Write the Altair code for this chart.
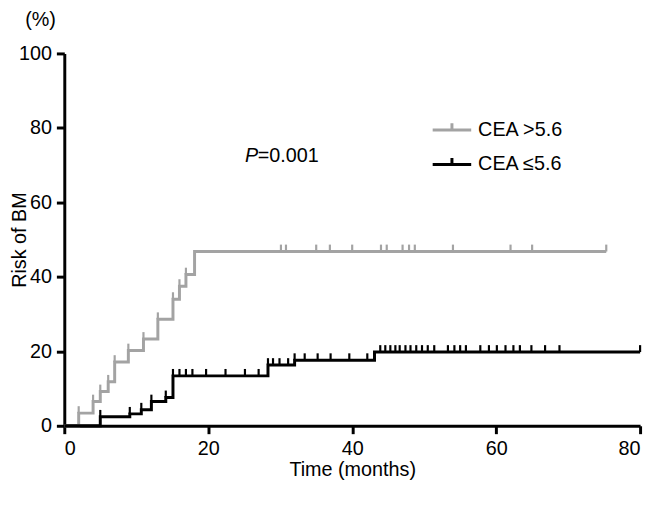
import altair as alt
import pandas as pd

# ---- data ----
series_names = ["CEA >5.6", "CEA ≤5.6"]
series_colors = ["#a3a3a3", "#000000"]

# CEA >5.6 (grey) step curve
hi_times = [0, 2.0, 4.0, 5.0, 6.1, 7.0, 8.9, 11.0, 13.0, 15.1, 16.0, 16.9, 18.1, 75.3]
hi_levels = [0, 3.4, 6.5, 9.2, 11.8, 17.1, 20.2, 23.3, 28.6, 34.0, 37.5, 40.6, 46.8, 46.8]
hi_censor = [2.0, 4.0, 5.0, 6.1, 7.0, 8.9, 11.0, 13.0, 15.1, 16.0, 16.9,
             30.1, 30.8, 35.0, 36.9, 40.0, 44.0, 44.8, 47.0, 47.9, 48.7,
             54.0, 62.0, 65.0, 75.3]

# CEA <=5.6 (black) step curve
lo_times = [0, 5.0, 9.1, 10.7, 12.1, 14.1, 15.1, 28.3, 32.0, 43.1, 80.0]
lo_levels = [0, 2.4, 3.2, 4.3, 6.5, 7.6, 13.4, 16.3, 17.6, 19.8, 19.8]
lo_censor = [5.0, 9.1, 10.7, 12.1, 14.1, 15.1, 16.0, 16.9, 17.8,
             19.7, 22.4, 25.1, 27.0, 28.3, 29.0, 29.9, 31.1, 32.0, 33.4,
             35.2, 37.0, 39.6, 42.1,
             43.9, 44.6, 45.3, 46.0, 46.6, 47.4, 48.1, 48.9, 49.7, 50.5,
             51.4, 53.3, 54.2, 55.0, 55.8, 57.8, 59.0, 60.1, 61.3, 62.4,
             63.3, 64.9, 66.8, 68.8, 80.0]

x_ticks = [0, 20, 40, 60, 80]
y_ticks = [0, 20, 40, 60, 80, 100]

p_text_x, p_text_y = 25.1, 72.4


def level_at(times, levels, t):
    v = levels[0]
    for tt, lv in zip(times, levels):
        if tt <= t + 1e-9:
            v = lv
    return v


rows = []
for t, v in zip(hi_times, hi_levels):
    rows.append({"group": series_names[0], "t": t, "v": v})
for t, v in zip(lo_times, lo_levels):
    rows.append({"group": series_names[1], "t": t, "v": v})
curves = pd.DataFrame(rows)

crow = []
for t in hi_censor:
    crow.append({"group": series_names[0], "t": t, "v": level_at(hi_times, hi_levels, t)})
for t in lo_censor:
    crow.append({"group": series_names[1], "t": t, "v": level_at(lo_times, lo_levels, t)})
censor = pd.DataFrame(crow)

FONT = "Liberation Sans"

xscale = alt.Scale(domain=[0, 80], nice=False, zero=False)
yscale = alt.Scale(domain=[0, 100], nice=False)
color = alt.Color(
    "group:N",
    scale=alt.Scale(domain=series_names, range=series_colors),
    sort=series_names,
    legend=alt.Legend(
        title=None,
        orient="none",
        legendX=376,
        legendY=61,
        symbolType="M-1.3,0H1.3M0,0V-0.45",
        symbolSize=900,
        symbolStrokeWidth=3,
        symbolFillColor="transparent",
        labelFont=FONT,
        labelFontSize=20,
        labelColor="black",
        labelOffset=10,
        rowPadding=8,
        padding=0,
    ),
)

lines = alt.Chart(curves).mark_line(interpolate="step-after", strokeWidth=3).encode(
    x=alt.X("t:Q", scale=xscale,
            axis=alt.Axis(values=x_ticks, title="Time (months)", labelPadding=5,
                          titleY=50, titleBaseline="alphabetic")),
    y=alt.Y("v:Q", scale=yscale,
            axis=alt.Axis(values=y_ticks, title="Risk of BM", labelPadding=5,
                          titleX=-39, titleY=188.5, titleBaseline="alphabetic",
                          titleAlign="center", titleAngle=270)),
    color=color,
    detail="group:N",
)

ticks = alt.Chart(censor).mark_point(
    shape="M0,0V-1", size=196, filled=False, strokeWidth=2.2, opacity=1
).encode(
    x=alt.X("t:Q", scale=xscale),
    y=alt.Y("v:Q", scale=yscale),
    stroke=alt.Stroke("group:N", scale=alt.Scale(domain=series_names, range=series_colors), legend=None),
)

ptxt = pd.DataFrame({"x": [p_text_x], "y": [p_text_y]})
p_italic = alt.Chart(ptxt).mark_text(
    text="P", font=FONT, fontSize=20, fontStyle="italic", align="left", baseline="middle", color="black"
).encode(x=alt.X("x:Q", scale=xscale), y=alt.Y("y:Q", scale=yscale))
p_rest = alt.Chart(ptxt).mark_text(
    text="=0.001", font=FONT, fontSize=20, align="left", baseline="middle", color="black", dx=13
).encode(x=alt.X("x:Q", scale=xscale), y=alt.Y("y:Q", scale=yscale))

unit = alt.Chart(pd.DataFrame({"u": ["(%)"]})).mark_text(
    font=FONT, fontSize=20, align="center", baseline="middle", color="black"
).encode(x=alt.value(-24), y=alt.value(-34), text="u:N")

chart = (
    alt.layer(lines, ticks, p_italic, p_rest, unit)
    .properties(
        width=583,
        height=377,
        autosize=alt.AutoSizeParams(type="none"),
        padding={"left": 57, "top": 43, "right": 7, "bottom": 60},
    )
    .configure_view(stroke=None)
    .configure_axis(
        grid=False,
        domainColor="black",
        domainWidth=3,
        tickColor="black",
        tickWidth=3,
        tickSize=8,
        labelFont=FONT,
        labelFontSize=20,
        labelColor="black",
        titleFont=FONT,
        titleFontSize=20,
        titleFontWeight="normal",
        titleColor="black",
    )
)

chart.save("out.html", embed_options={"renderer": "svg", "actions": False})
